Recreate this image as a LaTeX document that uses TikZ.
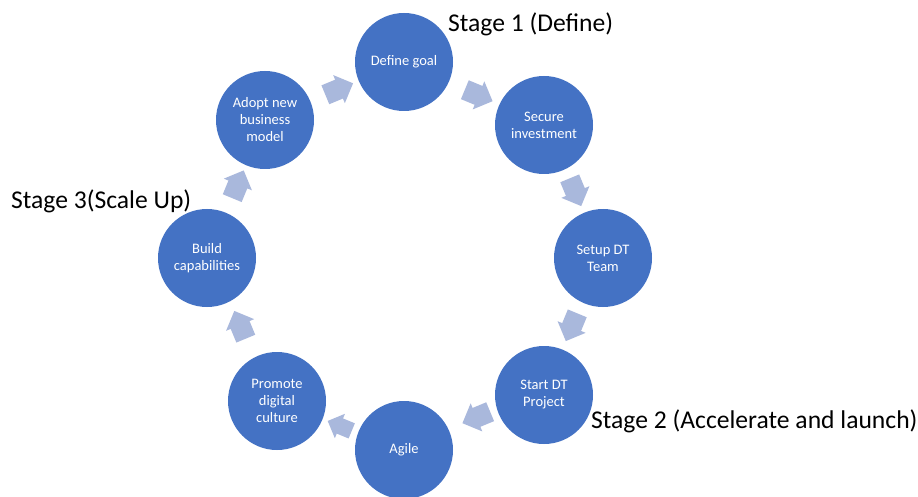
\documentclass[tikz,border=0pt]{standalone}
\usepackage{fontspec}
\setmainfont{Carlito}
\usetikzlibrary{shapes.arrows,calc}
\definecolor{stepblue}{HTML}{4472C4}
\definecolor{flowblue}{HTML}{A9B8DC}
\begin{document}
\begin{tikzpicture}[x=1pt,y=-1pt,
  stepcircle/.style={circle,fill=stepblue,draw=none,minimum size=98pt,inner sep=0pt,
    text=white,align=center,font=\fontsize{14.5}{17}\selectfont},
  flowarrow/.style={single arrow,fill=flowblue,draw=none,minimum height=30pt,
    minimum width=30pt,inner xsep=0pt,inner ysep=10pt,single arrow head extend=5pt},
  stagelabel/.style={anchor=base west,inner sep=0pt,font=\fontsize{25.6}{30}\selectfont}]
  \fill[white] (0,0) rectangle (918,497);
  \useasboundingbox (0,0) rectangle (918,497);

  % cycle steps
  \node[stepcircle] (define)  at (404,62)  {Define goal};
  \node[stepcircle] (secure)  at (544,125) {Secure\\investment};
  \node[stepcircle] (setup)   at (603,258) {Setup DT\\Team};
  \node[stepcircle] (start)   at (544,395) {Start DT\\Project};
  \node[stepcircle] (agile)   at (404,450) {Agile};
  \node[stepcircle] (promote) at (277,401) {Promote\\digital\\culture};
  \node[stepcircle] (build)   at (207,258) {Build\\capabilities};
  \node[stepcircle] (adopt)   at (265,120) {Adopt new\\business\\model};

  % block arrows between consecutive steps
  \node[flowarrow,rotate=22.5]   (a1) at ($(adopt)!0.5!(define)$) {};
  \node[flowarrow,rotate=-22.5]  (a2) at ($(define)!0.5!(secure)$) {};
  \node[flowarrow,rotate=-67.5]  (a3) at ($(secure)!0.5!(setup)+(0,-4)$) {};
  \node[flowarrow,rotate=-112.5] (a4) at ($(setup)!0.5!(start)+(0,-4)$) {};
  \node[flowarrow,rotate=-157.5] (a5) at ($(start)!0.5!(agile)+(7,-7)$) {};
  \node[flowarrow,rotate=157.5,minimum height=26pt,minimum width=25pt,inner ysep=8pt] (a6) at ($(agile)!0.5!(promote)+(3,2)$) {};
  \node[flowarrow,rotate=112.5]  (a7) at ($(promote)!0.5!(build)$) {};
  \node[flowarrow,rotate=67.5]   (a8) at ($(build)!0.5!(adopt)$) {};

  % stage captions
  \node[stagelabel] (stage1) at (448,32)  {Stage 1 (Define)};
  \node[stagelabel] (stage2) at (591,428) {Stage 2 (Accelerate and launch)};
  \node[stagelabel] (stage3) at (11,209)  {Stage 3(Scale Up)};
\end{tikzpicture}
\end{document}
